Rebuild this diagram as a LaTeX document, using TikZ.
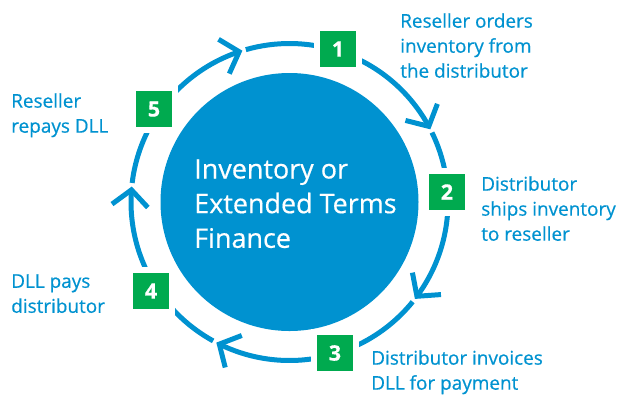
\documentclass[tikz,border=0pt]{standalone}
\usepackage{fontspec}
\setmainfont{Open Sans}[FakeBold=0.5]
\usepackage{tikz}
\usetikzlibrary{arrows.meta,bending}
\definecolor{dllblue}{RGB}{0,146,208}
\definecolor{dllgreen}{RGB}{0,170,79}

\begin{document}
\begin{tikzpicture}[x=0.75pt,y=0.75pt,
		mydisc/.style={circle, fill=dllblue, minimum size=193.5pt, inner sep=0pt},
		mybox/.style={fill=dllgreen, draw=white, line width=4.5pt, minimum size=31.5pt, inner sep=0pt, text=white, font=\fontsize{16}{16}\selectfont\bfseries},
		mylabel/.style={anchor=north west, align=left, inner sep=0pt, text=dllblue, font=\fontsize{14.2}{18.75}\selectfont},
		myring/.style={draw=dllblue, line width=3.75pt},
		myarrow/.style={-{Straight Barb[length=12pt, width=27pt, line join=miter, line cap=butt]}}
	]
	\useasboundingbox (0,0) rectangle (621,-394);

	\node[mydisc] (fin) at (289.5,-202) {};
	\node[anchor=north west, align=left, inner sep=0pt, text=white, font=\fontsize{20.2}{26}\selectfont] (fintext) at (194,-159) {Inventory or\\Extended Terms\\Finance};

	% ring, clockwise
	\draw[myring, myarrow] ([shift={(146:158.5)}]fin.center) arc[start angle=146, end angle=107.3, radius=158.5];
	\draw[myring] ([shift={(106:158.5)}]fin.center) arc[start angle=106, end angle=72.6, radius=158.5];
	\draw[myring, myarrow] ([shift={(72.6:158.5)}]fin.center) arc[start angle=72.6, end angle=27.3, radius=158.5];
	\draw[myring] ([shift={(26:158.5)}]fin.center) arc[start angle=26, end angle=3.6, radius=158.5];
	\draw[myring, myarrow] ([shift={(3.6:158.5)}]fin.center) arc[start angle=3.6, end angle=-37.7, radius=158.5];
	\draw[myring] ([shift={(-39:158.5)}]fin.center) arc[start angle=-39, end angle=-73.4, radius=158.5];
	\draw[myring, myarrow] ([shift={(-73.4:158.5)}]fin.center) arc[start angle=-73.4, end angle=-117.5, radius=158.5];
	\draw[myring] ([shift={(-118.8:158.5)}]fin.center) arc[start angle=-118.8, end angle=-147.4, radius=158.5];
	\draw[myring, myarrow] ([shift={(-147.4:158.5)}]fin.center) arc[start angle=-147.4, end angle=-185.6, radius=158.5];
	\draw[myring] ([shift={(-186.9:158.5)}]fin.center) arc[start angle=-186.9, end angle=-214.4, radius=158.5];

	% step boxes
	\node[mybox] (b1) at (338,-49) {1};
	\node[mybox] (b2) at (447,-192) {2};
	\node[mybox] (b3) at (335,-353) {3};
	\node[mybox] (b4) at (151,-291) {4};
	\node[mybox] (b5) at (154,-109) {5};

	% step texts
	\node[mylabel] (t1) at (400,-13) {Reseller orders\\inventory from\\the distributor};
	\node[mylabel] (t2) at (481,-176) {Distributor\\ships inventory\\to reseller};
	\node[mylabel] (t3) at (371,-350) {Distributor invoices\\DLL for payment};
	\node[mylabel] (t4) at (11,-274) {DLL pays\\distributor};
	\node[mylabel] (t5) at (11,-93) {Reseller\\repays DLL};

\end{tikzpicture}
\end{document}
